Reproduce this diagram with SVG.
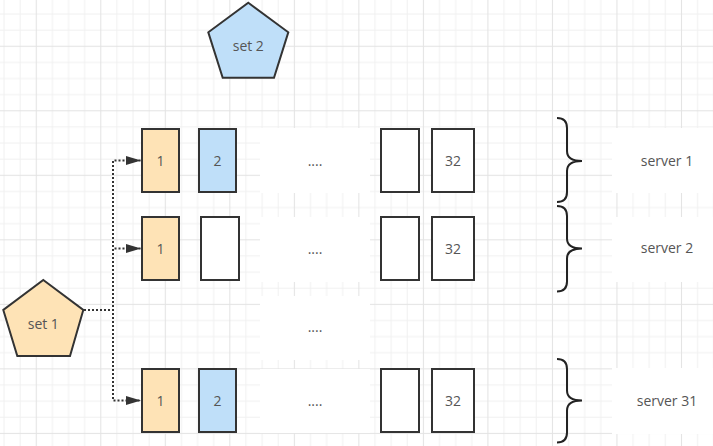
<svg xmlns="http://www.w3.org/2000/svg" width="713" height="446" viewBox="0 0 713 446">
<defs>
<pattern id="grid" patternUnits="userSpaceOnUse" x="35.76" y="45.76" width="64.52" height="64.52">
<rect x="0" y="0" width="64.52" height="64.52" fill="#ffffff"/>
<rect x="16.13" y="0" width="1" height="64.52" fill="#f1f1f1"/>
<rect x="32.26" y="0" width="1" height="64.52" fill="#f1f1f1"/>
<rect x="48.39" y="0" width="1" height="64.52" fill="#f1f1f1"/>
<rect x="0" y="16.13" width="64.52" height="1" fill="#f1f1f1"/>
<rect x="0" y="32.26" width="64.52" height="1" fill="#f1f1f1"/>
<rect x="0" y="48.39" width="64.52" height="1" fill="#f1f1f1"/>
<rect x="0" y="0" width="1" height="64.52" fill="#e3e3e3"/>
<rect x="0" y="0" width="64.52" height="1" fill="#e3e3e3"/>
</pattern>
<marker id="arrow" markerUnits="userSpaceOnUse" markerWidth="15" markerHeight="9" refX="15" refY="4.5" orient="auto">
<path d="M0,0 L15,4.5 L0,9 Z" fill="#333333"/>
</marker>
<style>
.box{stroke:#333333;stroke-width:2}
.orange{fill:#fee3b6}
.blue{fill:#bfdff9}
.plain{fill:#ffffff}
.lbl{font-family:"Open Sans","Noto Sans",sans-serif;font-size:14px;fill:#555555;text-anchor:middle}
.cell{fill:#ffffff;stroke:none}
.edge{fill:none;stroke:#333333;stroke-width:2;stroke-dasharray:2 2}
.brace{fill:none;stroke:#222222;stroke-width:2}
</style>
</defs>
<rect x="0" y="0" width="713" height="446" fill="url(#grid)"/>

<g id="set2">
<polygon class="box blue" points="248.3,2.7 288.3,32.3 274,77.7 222.7,77.7 208.3,32.3"/>
<text class="lbl" x="248.3" y="51">set 2</text>
</g>
<g id="set1">
<polygon class="box orange" points="43.3,280 83.3,310 70,356 17.3,356 3.3,310"/>
<text class="lbl" x="43.3" y="329">set 1</text>
</g>

<g id="row1">
<rect class="box orange" x="142" y="129" width="37" height="63"/>
<text class="lbl" x="160.5" y="165.5">1</text>
<rect class="box blue" x="199" y="129" width="37" height="63"/>
<text class="lbl" x="217.5" y="165.5">2</text>
<rect class="box plain" x="381" y="129" width="38" height="63"/>
<rect class="box plain" x="432" y="129" width="42" height="63"/>
<text class="lbl" x="453" y="165.5">32</text>
</g>
<g id="dots1"><rect class="cell" x="260" y="128" width="110" height="65"/><text class="lbl" x="315" y="166">....</text></g>

<g id="row2">
<rect class="box orange" x="142" y="217" width="37" height="63"/>
<text class="lbl" x="160.5" y="253.5">1</text>
<rect class="box plain" x="201" y="217" width="38" height="63"/>
<rect class="box plain" x="381" y="217" width="38" height="63"/>
<rect class="box plain" x="432" y="217" width="42" height="63"/>
<text class="lbl" x="453" y="253.5">32</text>
</g>
<g id="dots2"><rect class="cell" x="260" y="217" width="110" height="65"/><text class="lbl" x="315" y="254">....</text></g>

<g id="dots-mid"><rect class="cell" x="260" y="296" width="110" height="64"/><text class="lbl" x="315" y="332">....</text></g>

<g id="row31">
<rect class="box orange" x="142" y="369" width="37" height="63"/>
<text class="lbl" x="160.5" y="405.5">1</text>
<rect class="box blue" x="199" y="369" width="37" height="63"/>
<text class="lbl" x="217.5" y="405.5">2</text>
<rect class="box plain" x="381" y="369" width="38" height="63"/>
<rect class="box plain" x="432" y="369" width="42" height="63"/>
<text class="lbl" x="453" y="405.5">32</text>
</g>
<g id="dots31"><rect class="cell" x="260" y="369" width="110" height="64"/><text class="lbl" x="315" y="406">....</text></g>

<g id="server1">
<path class="brace" d="M557,118 Q567,118 567,128 L567,151 Q567,161 582,161 Q567,161 567,171 L567,192 Q567,202 557,202"/>
<rect class="cell" x="612" y="128" width="110" height="65"/>
<text class="lbl" x="667" y="166">server 1</text>
</g>
<g id="server2">
<path class="brace" d="M557,206 Q567,206 567,216 L567,238.5 Q567,248.5 582,248.5 Q567,248.5 567,258.5 L567,281.5 Q567,291.5 557,291.5"/>
<rect class="cell" x="612" y="217" width="110" height="65"/>
<text class="lbl" x="667" y="253">server 2</text>
</g>
<g id="server31">
<path class="brace" d="M557,359 Q567,359 567,369 L567,390.5 Q567,400.5 582,400.5 Q567,400.5 567,410.5 L567,432.5 Q567,442.5 557,442.5"/>
<rect class="cell" x="612" y="368" width="110" height="66"/>
<text class="lbl" x="667" y="406">server 31</text>
</g>

<g id="connectors">
<path class="edge" d="M84,310 H113 V160.5 H141" marker-end="url(#arrow)"/>
<path class="edge" d="M84,310 H113 V248.5 H141" marker-end="url(#arrow)"/>
<path class="edge" d="M84,310 H113 V400.5 H141" marker-end="url(#arrow)"/>
</g>
</svg>
